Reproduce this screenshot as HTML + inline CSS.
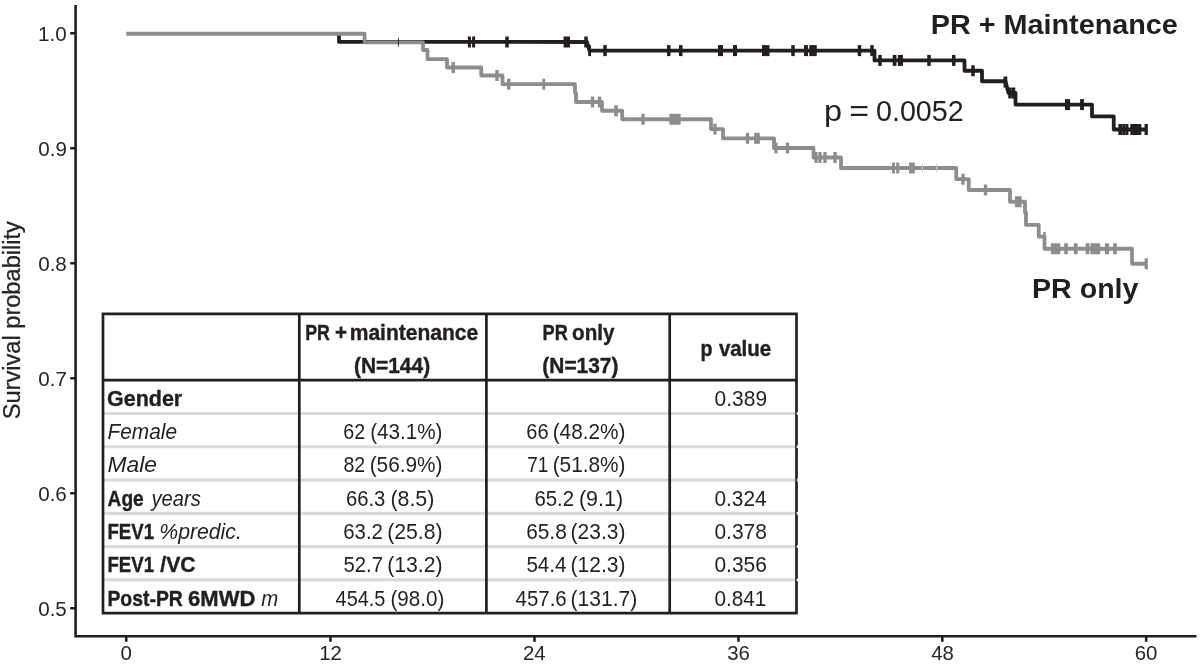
<!DOCTYPE html>
<html lang="en"><head><meta charset="utf-8"><title>Survival probability</title>
<style>
html,body{margin:0;padding:0;background:#fff;}
body{width:1200px;height:664px;overflow:hidden;}
svg{display:block;font-family:"Liberation Sans",Arial,Helvetica,sans-serif;}
</style></head><body>
<svg width="1200" height="664" viewBox="0 0 1200 664">
<rect width="1200" height="664" fill="#ffffff"/>
<path d="M75.6 5V636.3H1196.5" fill="none" stroke="#231f20" stroke-width="2.6" stroke-linejoin="miter"/>
<path d="M70.2 33.25H75.6M70.2 148.25H75.6M70.2 263.25H75.6M70.2 378.25H75.6M70.2 493.25H75.6M70.2 608.25H75.6M126.25 636.3V641.8M330.5 636.3V641.8M534.5 636.3V641.8M738.4 636.3V641.8M942.3 636.3V641.8M1146.2 636.3V641.8" fill="none" stroke="#231f20" stroke-width="2.6"/>
<text transform="translate(38.09 40.65) scale(1.0300 1)" font-size="20" fill="#272526">1.0</text>
<text transform="translate(38.29 155.65) scale(1.0300 1)" font-size="20" fill="#272526">0.9</text>
<text transform="translate(38.19 270.65) scale(1.0300 1)" font-size="20" fill="#272526">0.8</text>
<text transform="translate(38.29 385.65) scale(1.0300 1)" font-size="20" fill="#272526">0.7</text>
<text transform="translate(38.19 500.65) scale(1.0300 1)" font-size="20" fill="#272526">0.6</text>
<text transform="translate(38.19 615.65) scale(1.0300 1)" font-size="20" fill="#272526">0.5</text>
<text transform="translate(120.59 659.80) scale(1.0200 1)" font-size="20" fill="#272526">0</text>
<text transform="translate(319.17 659.80) scale(1.0200 1)" font-size="20" fill="#272526">12</text>
<text transform="translate(522.92 659.80) scale(1.0200 1)" font-size="20" fill="#272526">24</text>
<text transform="translate(727.13 659.80) scale(1.0200 1)" font-size="20" fill="#272526">36</text>
<text transform="translate(931.18 659.80) scale(1.0200 1)" font-size="20" fill="#272526">48</text>
<text transform="translate(1134.73 659.80) scale(1.0200 1)" font-size="20" fill="#272526">60</text>
<text transform="translate(19.80 419.26) rotate(-90) scale(1.0050 1)" font-size="23.5" fill="#272526" stroke="#272526" stroke-width="0.3">Survival probability</text>
<path d="M339.0 34.5 L339.0 41.9 L587 42 L589.5 50.6 L874.5 50.6 L874.5 60.4 L964.5 60.4 L964.5 70.75 L982 70.75 L982 81.25 L1005.5 81.25 L1008.5 93 L1015.5 93 L1015.5 104.6 L1092 104.6 L1092 116.4 L1113.75 116.4 L1113.75 129.5 L1146.5 129.5" fill="none" stroke="#231f20" stroke-width="3.8" stroke-linejoin="round"/>
<g fill="#231f20"><rect x="467.90" y="36.50" width="3.00" height="11"/><rect x="472.10" y="36.50" width="3.00" height="11"/><rect x="505.25" y="36.50" width="3.50" height="11"/><rect x="563.55" y="36.50" width="6.50" height="11"/><rect x="584.25" y="36.50" width="3.50" height="11"/><rect x="588.20" y="45.10" width="2.80" height="11"/><rect x="603.25" y="45.10" width="3.50" height="11"/><rect x="667.00" y="45.10" width="3.50" height="11"/><rect x="679.00" y="45.10" width="3.50" height="11"/><rect x="718.00" y="45.10" width="5.00" height="11"/><rect x="733.00" y="45.10" width="4.00" height="11"/><rect x="762.00" y="45.10" width="7.50" height="11"/><rect x="791.25" y="45.10" width="3.50" height="11"/><rect x="804.00" y="45.10" width="4.00" height="11"/><rect x="809.25" y="45.10" width="7.50" height="11"/><rect x="857.75" y="45.10" width="3.50" height="11"/><rect x="870.25" y="45.10" width="3.50" height="11"/><rect x="878.25" y="54.90" width="3.50" height="11"/><rect x="892.75" y="54.90" width="3.70" height="11"/><rect x="897.85" y="54.90" width="5.10" height="11"/><rect x="927.25" y="54.90" width="3.50" height="11"/><rect x="952.00" y="54.90" width="3.50" height="11"/><rect x="971.25" y="65.25" width="3.50" height="11"/><rect x="1003.50" y="76.50" width="3.80" height="11"/><rect x="1008.25" y="87.50" width="3.50" height="11"/><rect x="1011.75" y="87.50" width="3.50" height="11"/><rect x="1064.95" y="99.10" width="5.10" height="11"/><rect x="1080.10" y="99.10" width="3.80" height="11"/><rect x="1118.35" y="124.00" width="3.70" height="11"/><rect x="1122.25" y="124.00" width="3.10" height="11"/><rect x="1125.35" y="124.00" width="3.10" height="11"/><rect x="1130.30" y="124.00" width="11.00" height="11"/><rect x="1144.55" y="124.00" width="3.30" height="11"/></g>
<path d="M126.25 33.75 L364.6 33.75 L364.6 42.3 L423 42.3 L423 50 L427.5 50 L427.5 59.1 L447 59.1 L447 67.5 L481.25 67.5 L481.25 75.5 L502.5 75.5 L502.5 84.2 L575 84.2 L575 93 L576 93 L576 102 L602 102 L602 110.75 L622.2 110.75 L622.2 119.25 L711 119.25 L711 129.1 L723 129.1 L723 138.3 L774 138.3 L774 148 L813.5 148 L813.5 157.5 L841 157.5 L841 168 L956.25 168 L956.25 179.2 L968.75 179.2 L968.75 190.0 L1010 190.0 L1010 201.75 L1025 201.75 L1025 212.5 L1026 212.5 L1026 224.9 L1038.75 224.9 L1038.75 236.6 L1044.5 236.6 L1044.5 248.75 L1132 248.75 L1132 263.75 L1146.3 263.75" fill="none" stroke="#8b8d8f" stroke-width="3.8" stroke-linejoin="round"/>
<g fill="#8b8d8f"><rect x="451.55" y="62.00" width="3.40" height="11"/><rect x="495.30" y="70.00" width="3.40" height="11"/><rect x="507.05" y="78.70" width="3.40" height="11"/><rect x="542.35" y="78.70" width="2.80" height="11"/><rect x="590.80" y="96.50" width="3.40" height="11"/><rect x="597.80" y="96.50" width="3.40" height="11"/><rect x="614.15" y="105.25" width="3.70" height="11"/><rect x="641.30" y="113.75" width="3.40" height="11"/><rect x="669.40" y="113.75" width="11.20" height="11"/><rect x="713.30" y="123.60" width="3.40" height="11"/><rect x="745.90" y="132.80" width="3.20" height="11"/><rect x="754.15" y="132.80" width="5.70" height="11"/><rect x="774.50" y="142.50" width="3.00" height="11"/><rect x="785.80" y="142.50" width="3.40" height="11"/><rect x="814.40" y="152.00" width="3.20" height="11"/><rect x="818.40" y="152.00" width="3.20" height="11"/><rect x="823.30" y="152.00" width="3.40" height="11"/><rect x="833.30" y="152.00" width="3.40" height="11"/><rect x="892.05" y="162.50" width="2.90" height="11"/><rect x="896.25" y="162.50" width="2.90" height="11"/><rect x="909.00" y="162.50" width="5.80" height="11"/><rect x="961.30" y="173.70" width="3.40" height="11"/><rect x="983.80" y="184.50" width="3.40" height="11"/><rect x="1015.00" y="196.25" width="6.60" height="11"/><rect x="1050.90" y="243.25" width="9.40" height="11"/><rect x="1064.15" y="243.25" width="3.70" height="11"/><rect x="1073.90" y="243.25" width="3.70" height="11"/><rect x="1085.65" y="243.25" width="3.70" height="11"/><rect x="1090.40" y="243.25" width="9.80" height="11"/><rect x="1104.90" y="243.25" width="4.20" height="11"/><rect x="1113.15" y="243.25" width="3.70" height="11"/><rect x="1144.60" y="258.25" width="3.20" height="11"/></g>
<rect x="1043.2" y="232" width="2.5" height="7" fill="#8b8d8f"/>
<rect x="397.9" y="37.8" width="0.9" height="8.8" fill="#231f20"/>
<g fill="#c6c7c9"><rect x="922.1" y="163.6" width="0.9" height="8.8"/><rect x="936.3" y="163.6" width="0.9" height="8.8"/></g>
<text transform="translate(930.73 33.60) scale(1.0140 1)" font-size="28.4" fill="#231f20" font-weight="700">PR + Maintenance</text>
<text transform="translate(1032.04 297.70) scale(1.0211 1)" font-size="28.0" fill="#231f20" font-weight="700">PR only</text>
<g><text transform="translate(823.95 120.70) scale(1.0771 1)" font-size="30.2" fill="#231f20">p</text><text transform="translate(849.27 120.70) scale(1.1285 1)" font-size="30.2" fill="#231f20">=</text><text transform="translate(876.00 120.70) scale(0.9500 1)" font-size="30.2" fill="#231f20">0.0052</text></g>
<rect x="103.0" y="313.9" width="693.5" height="299.20000000000005" fill="#ffffff"/>
<path d="M103.0 413.48H797.5M103.0 446.76H797.5M103.0 480.04H797.5M103.0 513.32H797.5M103.0 546.60H797.5M103.0 579.88H797.5" stroke="#dadada" stroke-width="3.2" fill="none"/>
<path d="M103.0 313.9H796.5V613.1H103.0Z" stroke="#231f20" stroke-width="2.7" fill="none"/>
<g fill="#ffffff"><rect x="796.7" y="412.18" width="1.6" height="2.6"/><rect x="796.7" y="445.46" width="1.6" height="2.6"/><rect x="796.7" y="478.74" width="1.6" height="2.6"/><rect x="796.7" y="512.02" width="1.6" height="2.6"/><rect x="796.7" y="545.30" width="1.6" height="2.6"/><rect x="796.7" y="578.58" width="1.6" height="2.6"/></g>
<path d="M103.0 380.2H796.5 M299.3 313.9V613.1 M486.4 313.9V613.1 M669.7 313.9V613.1" stroke="#231f20" stroke-width="2.7" fill="none"/>
<g><text transform="translate(305.24 339.50) scale(0.8230 1)" font-size="21.6" fill="#231f20" font-weight="700" stroke="#231f20" stroke-width="0.4">PR</text><text transform="translate(335.08 339.50) scale(0.9534 1)" font-size="21.6" fill="#231f20" font-weight="700" stroke="#231f20" stroke-width="0.4">+</text><text transform="translate(349.73 339.50) scale(0.9736 1)" font-size="21.6" fill="#231f20" font-weight="700" stroke="#231f20" stroke-width="0.4">maintenance</text></g>
<text transform="translate(353.96 372.80) scale(0.9690 1)" font-size="21.6" fill="#231f20" font-weight="700" stroke="#231f20" stroke-width="0.4">(N=144)</text>
<g><text transform="translate(542.51 339.50) scale(0.8443 1)" font-size="21.6" fill="#231f20" font-weight="700" stroke="#231f20" stroke-width="0.4">PR</text><text transform="translate(572.08 339.50) scale(0.9557 1)" font-size="21.6" fill="#231f20" font-weight="700" stroke="#231f20" stroke-width="0.4">only</text></g>
<text transform="translate(542.36 372.80) scale(0.9677 1)" font-size="21.6" fill="#231f20" font-weight="700" stroke="#231f20" stroke-width="0.4">(N=137)</text>
<g><text transform="translate(700.53 355.80) scale(0.9076 1)" font-size="21.6" fill="#231f20" font-weight="700" stroke="#231f20" stroke-width="0.4">p</text><text transform="translate(718.90 355.80) scale(0.9461 1)" font-size="21.6" fill="#231f20" font-weight="700" stroke="#231f20" stroke-width="0.4">value</text></g>
<text transform="translate(107.04 405.70) scale(0.9945 1)" font-size="21.6" fill="#231f20" font-weight="700" stroke="#231f20" stroke-width="0.4">Gender</text>
<text transform="translate(107.58 439.02) scale(0.9642 1)" font-size="21.6" fill="#231f20" font-style="italic">Female</text>
<text transform="translate(107.51 472.34) scale(1.0582 1)" font-size="21.6" fill="#231f20" font-style="italic">Male</text>
<g><text transform="translate(107.62 505.66) scale(0.8830 1)" font-size="21.6" fill="#231f20" font-weight="700" stroke="#231f20" stroke-width="0.4">Age</text><text transform="translate(151.41 505.66) scale(0.9352 1)" font-size="21.6" fill="#231f20" font-style="italic">years</text></g>
<g><text transform="translate(107.49 538.98) scale(0.8625 1)" font-size="21.6" fill="#231f20" font-weight="700" stroke="#231f20" stroke-width="0.4">FEV1</text><text transform="translate(159.31 538.98) scale(0.9822 1)" font-size="21.6" fill="#231f20" font-style="italic">%predic.</text></g>
<g><text transform="translate(107.49 572.30) scale(0.8625 1)" font-size="21.6" fill="#231f20" font-weight="700" stroke="#231f20" stroke-width="0.4">FEV1</text><text transform="translate(160.29 572.30) scale(0.9826 1)" font-size="21.6" fill="#231f20" font-weight="700" stroke="#231f20" stroke-width="0.4">/VC</text></g>
<g><text transform="translate(107.44 605.62) scale(0.8979 1)" font-size="21.6" fill="#231f20" font-weight="700" stroke="#231f20" stroke-width="0.4">Post-PR</text><text transform="translate(188.03 605.62) scale(1.0205 1)" font-size="21.6" fill="#231f20" font-weight="700" stroke="#231f20" stroke-width="0.4">6MWD</text><text transform="translate(261.29 605.62) scale(0.9438 1)" font-size="21.6" fill="#231f20" font-style="italic">m</text></g>
<g><text transform="translate(343.31 439.02) scale(0.9122 1)" font-size="21.6" fill="#231f20">62</text><text transform="translate(370.16 439.02) scale(0.9574 1)" font-size="21.6" fill="#231f20">(43.1%)</text></g>
<g><text transform="translate(343.52 472.34) scale(0.9033 1)" font-size="21.6" fill="#231f20">82</text><text transform="translate(369.65 472.34) scale(0.9642 1)" font-size="21.6" fill="#231f20">(56.9%)</text></g>
<g><text transform="translate(345.89 505.66) scale(0.9384 1)" font-size="21.6" fill="#231f20">66.3</text><text transform="translate(390.42 505.66) scale(0.9904 1)" font-size="21.6" fill="#231f20">(8.5)</text></g>
<g><text transform="translate(343.28 538.98) scale(0.9434 1)" font-size="21.6" fill="#231f20">63.2</text><text transform="translate(387.13 538.98) scale(0.9834 1)" font-size="21.6" fill="#231f20">(25.8)</text></g>
<g><text transform="translate(343.49 572.30) scale(0.9384 1)" font-size="21.6" fill="#231f20">52.7</text><text transform="translate(387.13 572.30) scale(0.9834 1)" font-size="21.6" fill="#231f20">(13.2)</text></g>
<g><text transform="translate(335.60 605.62) scale(0.9202 1)" font-size="21.6" fill="#231f20">454.5</text><text transform="translate(390.46 605.62) scale(0.9556 1)" font-size="21.6" fill="#231f20">(98.0)</text></g>
<g><text transform="translate(526.30 439.02) scale(0.9259 1)" font-size="21.6" fill="#231f20">66</text><text transform="translate(552.65 439.02) scale(0.9642 1)" font-size="21.6" fill="#231f20">(48.2%)</text></g>
<g><text transform="translate(527.15 472.34) scale(0.8803 1)" font-size="21.6" fill="#231f20">71</text><text transform="translate(552.65 472.34) scale(0.9642 1)" font-size="21.6" fill="#231f20">(51.8%)</text></g>
<g><text transform="translate(534.38 505.66) scale(0.9459 1)" font-size="21.6" fill="#231f20">65.2</text><text transform="translate(578.91 505.66) scale(0.9951 1)" font-size="21.6" fill="#231f20">(9.1)</text></g>
<g><text transform="translate(526.16 538.98) scale(0.9659 1)" font-size="21.6" fill="#231f20">65.8</text><text transform="translate(570.54 538.98) scale(0.9723 1)" font-size="21.6" fill="#231f20">(23.3)</text></g>
<g><text transform="translate(526.38 572.30) scale(0.9530 1)" font-size="21.6" fill="#231f20">54.4</text><text transform="translate(570.54 572.30) scale(0.9723 1)" font-size="21.6" fill="#231f20">(12.3)</text></g>
<g><text transform="translate(515.59 605.62) scale(0.9468 1)" font-size="21.6" fill="#231f20">457.6</text><text transform="translate(570.54 605.62) scale(0.9745 1)" font-size="21.6" fill="#231f20">(131.7)</text></g>
<text transform="translate(714.57 405.70) scale(0.9718 1)" font-size="21.6" fill="#231f20">0.389</text>
<text transform="translate(714.47 505.66) scale(0.9639 1)" font-size="21.6" fill="#231f20">0.324</text>
<text transform="translate(714.47 538.98) scale(0.9698 1)" font-size="21.6" fill="#231f20">0.378</text>
<text transform="translate(714.47 572.30) scale(0.9698 1)" font-size="21.6" fill="#231f20">0.356</text>
<text transform="translate(714.47 605.62) scale(0.9604 1)" font-size="21.6" fill="#231f20">0.841</text>
</svg>
</body></html>
